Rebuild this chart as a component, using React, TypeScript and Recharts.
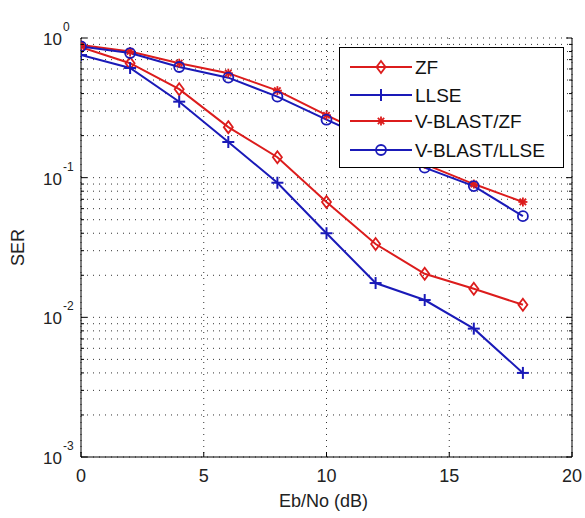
import React from 'react';
import { LineChart, Line, XAxis, YAxis, CartesianGrid, Legend } from 'recharts';

const snr = [0, 2, 4, 6, 8, 10, 12, 14, 16, 18];
const serZF = [0.86, 0.66, 0.43, 0.23, 0.14, 0.067, 0.0335, 0.0205, 0.016, 0.0123];
const serLLSE = [0.755, 0.61, 0.35, 0.18, 0.092, 0.04, 0.0176, 0.0133, 0.0083, 0.004];
const serVBZF = [0.89, 0.8, 0.66, 0.56, 0.42, 0.28, 0.19, 0.125, 0.09, 0.067];
const serVBLLSE = [0.87, 0.78, 0.62, 0.52, 0.38, 0.26, 0.18, 0.118, 0.087, 0.053];

const xTicks = [0, 5, 10, 15, 20];
const yTicks = [
  0.001, 0.002, 0.003, 0.004, 0.005, 0.006, 0.007, 0.008, 0.009,
  0.01, 0.02, 0.03, 0.04, 0.05, 0.06, 0.07, 0.08, 0.09,
  0.1, 0.2, 0.3, 0.4, 0.5, 0.6, 0.7, 0.8, 0.9,
  1,
];
const yMajor = [0.001, 0.01, 0.1, 1];
const yMajorExp = ['-3', '-2', '-1', '0'];

const seriesKeys = ['zf', 'llse', 'vbzf', 'vbllse'];
const seriesNames = ['ZF', 'LLSE', 'V-BLAST/ZF', 'V-BLAST/LLSE'];
const seriesMarkers = ['diamond', 'plus', 'star', 'circle'];

const RED = '#dc1c1c';
const BLUE = '#1a1ab8';
const seriesColors = [RED, BLUE, RED, BLUE];

const FONT = '"Liberation Sans", Arial, Helvetica, sans-serif';

const data = snr.map((x, i) => ({
  x,
  zf: serZF[i],
  llse: serLLSE[i],
  vbzf: serVBZF[i],
  vbllse: serVBLLSE[i],
}));

function Marker({ type, cx, cy, color }: { type: string; cx: number; cy: number; color: string }) {
  if (type === 'diamond') {
    return (
      <polygon
        points={`${cx},${cy - 6} ${cx + 4.5},${cy} ${cx},${cy + 6} ${cx - 4.5},${cy}`}
        fill="none"
        stroke={color}
        strokeWidth={1.8}
      />
    );
  }
  if (type === 'plus') {
    return (
      <g stroke={color} strokeWidth={2}>
        <line x1={cx - 6} x2={cx + 6} y1={cy} y2={cy} />
        <line x1={cx} x2={cx} y1={cy - 6} y2={cy + 6} />
      </g>
    );
  }
  if (type === 'star') {
    return (
      <g stroke={color} strokeWidth={1.8}>
        <line x1={cx - 4.5} x2={cx + 4.5} y1={cy} y2={cy} />
        <line x1={cx} x2={cx} y1={cy - 4.5} y2={cy + 4.5} />
        <line x1={cx - 3.2} x2={cx + 3.2} y1={cy - 3.2} y2={cy + 3.2} />
        <line x1={cx - 3.2} x2={cx + 3.2} y1={cy + 3.2} y2={cy - 3.2} />
      </g>
    );
  }
  return <circle cx={cx} cy={cy} r={5} fill="none" stroke={color} strokeWidth={1.8} />;
}

const makeDot = (idx: number) => (props: any) => {
  const { cx, cy, index } = props;
  if (cx == null || cy == null) return <g key={`e-${idx}-${index}`} />;
  return (
    <g key={`d-${idx}-${index}`}>
      <Marker type={seriesMarkers[idx]} cx={cx} cy={cy} color={seriesColors[idx]} />
    </g>
  );
};

const LeftTick = (props: any) => {
  const { x, y, payload } = props;
  const k = yMajor.indexOf(payload.value);
  const major = k >= 0;
  return (
    <g>
      <line x1={x} x2={x + (major ? 6 : 3)} y1={y} y2={y} stroke="#000" strokeWidth={1} />
      {major && (
        <text fontFamily={FONT} fill="#222">
          <tspan x={x - 19} y={y + 7} fontSize={17} textAnchor="end">10</tspan>
          <tspan x={x - 18} y={y - 7} fontSize={12} textAnchor="start">{yMajorExp[k]}</tspan>
        </text>
      )}
    </g>
  );
};

const RightTick = (props: any) => {
  const { x, y, payload } = props;
  const major = yMajor.indexOf(payload.value) >= 0;
  return <line x1={x} x2={x - (major ? 6 : 3)} y1={y} y2={y} stroke="#000" strokeWidth={1} />;
};

const BottomTick = (props: any) => {
  const { x, y, payload } = props;
  return (
    <g>
      <line x1={x} x2={x} y1={y} y2={y - 5} stroke="#000" strokeWidth={1} />
      <text x={x} y={y + 25} textAnchor="middle" fontFamily={FONT} fontSize={18} fill="#222">
        {payload.value}
      </text>
    </g>
  );
};

const TopTick = (props: any) => {
  const { x, y } = props;
  return <line x1={x} x2={x} y1={y} y2={y + 5} stroke="#000" strokeWidth={1} />;
};

const LegendBox = () => {
  const rows = [20, 48, 74, 103];
  return (
    <svg width={225} height={121} style={{ display: 'block' }}>
      <rect x={0.5} y={0.5} width={224} height={120} fill="#fff" stroke="#000" strokeWidth={1} />
      {seriesNames.map((name, i) => (
        <g key={name}>
          <line x1={11} x2={73} y1={rows[i]} y2={rows[i]} stroke={seriesColors[i]} strokeWidth={2} />
          <Marker type={seriesMarkers[i]} cx={42} cy={rows[i]} color={seriesColors[i]} />
          <text x={76} y={rows[i] + 7} fontFamily={FONT} fontSize={19} fill="#111">
            {name}
          </text>
        </g>
      ))}
    </svg>
  );
};

export default function App() {
  return (
    <div style={{ position: 'absolute', left: 0, top: 0, width: 585, height: 518, background: '#fff' }}>
      <LineChart width={585} height={518} data={data} margin={{ top: 38, right: 0, left: 0, bottom: 0 }}>
        <CartesianGrid stroke="#333" strokeDasharray="1 5" strokeWidth={1} />
        <XAxis
          dataKey="x"
          type="number"
          domain={[0, 20]}
          ticks={xTicks}
          interval={0}
          height={61}
          tickSize={0}
          tickMargin={0}
          tick={<BottomTick />}
          axisLine={{ stroke: '#000', strokeWidth: 1 }}
          tickLine={false}
          allowDataOverflow
          label={{
            content: (p: any) => {
              const vb = p.viewBox;
              return (
                <text x={vb.x + vb.width / 2 - 3} y={vb.y + 50} textAnchor="middle" fontFamily={FONT} fontSize={18} fill="#222">
                  Eb/No (dB)
                </text>
              );
            },
          }}
        />
        <XAxis
          xAxisId="top"
          orientation="top"
          dataKey="x"
          type="number"
          domain={[0, 20]}
          ticks={xTicks}
          interval={0}
          height={0}
          tickSize={0}
          tickMargin={0}
          tick={<TopTick />}
          axisLine={{ stroke: '#000', strokeWidth: 1 }}
          tickLine={false}
          allowDataOverflow
          label={{
            content: (p: any) => {
              const vb = p.viewBox;
              return (
                <text x={vb.x + vb.width / 2} y={vb.y - 17} textAnchor="middle" fontFamily={FONT} fontSize={19} fill="#222">
                  comparison of detection schemes
                </text>
              );
            },
          }}
        />
        <YAxis
          scale="log"
          type="number"
          domain={[0.001, 1]}
          ticks={yTicks}
          interval={0}
          width={81}
          tickSize={0}
          tickMargin={0}
          tick={<LeftTick />}
          axisLine={{ stroke: '#000', strokeWidth: 1 }}
          tickLine={false}
          allowDataOverflow
          label={{
            content: (p: any) => {
              const vb = p.viewBox;
              const cx = 18;
              const cy = vb.y + vb.height / 2;
              return (
                <text x={cx} y={cy} transform={`rotate(-90 ${cx} ${cy})`} textAnchor="middle" dominantBaseline="central" fontFamily={FONT} fontSize={18} fill="#222">
                  SER
                </text>
              );
            },
          }}
        />
        <YAxis
          yAxisId="right"
          orientation="right"
          scale="log"
          type="number"
          domain={[0.001, 1]}
          ticks={yTicks}
          interval={0}
          width={13}
          tickSize={0}
          tickMargin={0}
          tick={<RightTick />}
          axisLine={{ stroke: '#000', strokeWidth: 1 }}
          tickLine={false}
          allowDataOverflow
        />
        {seriesKeys.map((k, i) => (
          <Line
            key={k}
            dataKey={k}
            name={seriesNames[i]}
            type="linear"
            stroke={seriesColors[i]}
            strokeWidth={2}
            dot={makeDot(i)}
            activeDot={false}
            isAnimationActive={false}
          />
        ))}
        <Legend
          layout="vertical"
          align="center"
          verticalAlign="middle"
          wrapperStyle={{ left: 339, top: 47, width: 225, height: 121 }}
          content={() => <LegendBox />}
        />
      </LineChart>
    </div>
  );
}
